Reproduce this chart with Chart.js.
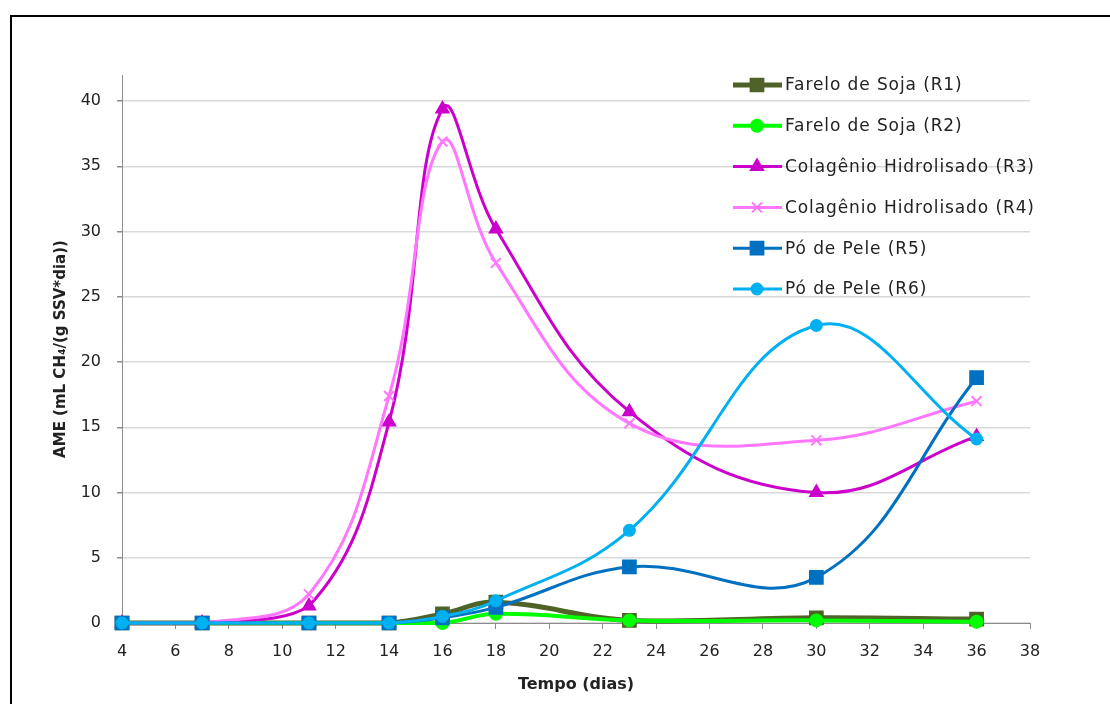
<!DOCTYPE html>
<html>
<head>
<meta charset="utf-8">
<script src="https://cdn.jsdelivr.net/npm/chart.js@4.4.1/dist/chart.umd.min.js"></script>
<style>
  html, body { margin: 0; padding: 0; background: #fff; }
  #wrap { position: relative; width: 1110px; height: 704px; overflow: hidden; }
</style>
</head>
<body>
<div id="wrap"><canvas id="ameChart" width="1110" height="704"></canvas></div>
<script>
// tempo (dias)
const days = [4, 7, 11, 14, 16, 18, 23, 30, 36];

const labelsR = [
    'Farelo de Soja (R1)',
    'Farelo de Soja (R2)',
    'Colagênio Hidrolisado (R3)',
    'Colagênio Hidrolisado (R4)',
    'Pó de Pele (R5)',
    'Pó de Pele (R6)'
];

const r1 = [0, 0, 0, 0, 0.7, 1.6, 0.2, 0.4, 0.3];
const r2 = [0, 0, 0, 0, 0, 0.7, 0.2, 0.2, 0.1];
const r3 = [0, 0, 1.3, 15.4, 39.4, 30.2, 16.2, 10.0, 14.3];
const r4 = [0, 0, 2.2, 17.4, 36.9, 27.6, 15.3, 14.0, 17.0];
const r5 = [0, 0, 0, 0, 0.4, 1.2, 4.3, 3.5, 18.8];
const r6 = [0, 0, 0, 0, 0.5, 1.7, 7.1, 22.8, 14.1];

const yTicks = [0, 5, 10, 15, 20, 25, 30, 35, 40];

const FONT = 'DejaVu Sans';

function pts(vals) {
    return days.map((d, i) => ({ x: d, y: vals[i] }));
}

const ctx = document.getElementById('ameChart').getContext('2d');

const series = [
    { label: labelsR[0], data: pts(r1), color: '#4f6228', style: 'rect', radius: 9, width: 5 },
    { label: labelsR[1], data: pts(r2), color: '#00ff00', style: 'circle', radius: 6, width: 4 },
    { label: labelsR[2], data: pts(r3), color: '#cc00cc', style: 'triangle', radius: 7, width: 3 },
    { label: labelsR[3], data: pts(r4), color: '#ff77ff', style: 'crossRot', radius: 7, width: 3 },
    { label: labelsR[4], data: pts(r5), color: '#0070c0', style: 'rect', radius: 9, width: 3 },
    { label: labelsR[5], data: pts(r6), color: '#00b0f0', style: 'circle', radius: 5.5, width: 3 }
];

// outer frame + legend drawn inside the plot area
const framePlugin = {
    id: 'frame',
    beforeDraw(chart) {
        const c = chart.ctx;
        c.save();
        c.strokeStyle = '#000';
        c.lineWidth = 2;
        c.strokeRect(11, 16, 1200, 800);
        c.restore();
    },
    afterDraw(chart) {
        const c = chart.ctx;
        c.save();
        c.font = '17px "' + FONT + '"';
        c.letterSpacing = '0.9px';
        c.textBaseline = 'middle';
        c.textAlign = 'left';
        chart.data.datasets.forEach((ds, i) => {
            const y = 85 + i * 40.8;
            c.strokeStyle = ds.borderColor;
            c.lineWidth = ds.borderWidth;
            c.beginPath();
            c.moveTo(733, y);
            c.lineTo(782, y);
            c.stroke();
            c.fillStyle = ds.backgroundColor;
            c.lineWidth = 2;
            Chart.helpers.drawPoint(c, { pointStyle: ds.pointStyle, radius: ds.pointRadius, borderWidth: 2, rotation: 0 }, 757, y);
            c.fillStyle = '#222';
            c.fillText(ds.label, 785, y + 1);
        });
        c.restore();
    }
};

new Chart(ctx, {
    type: 'line',
    data: {
        datasets: series.map((s, i) => ({
            label: s.label,
            data: s.data,
            borderColor: s.color,
            backgroundColor: s.color,
            pointBackgroundColor: s.color,
            pointBorderColor: s.color,
            pointStyle: s.style,
            pointRadius: s.radius,
            pointBorderWidth: 2,
            borderWidth: s.width,
            tension: 0.4,
            fill: false,
            clip: false,
            order: series.length - i
        }))
    },
    options: {
        responsive: false,
        animation: false,
        layout: { padding: { left: 0, top: 75, right: 80, bottom: 0 } },
        plugins: {
            legend: { display: false },
            tooltip: { enabled: false }
        },
        scales: {
            x: {
                type: 'linear',
                min: 4,
                max: 38,
                ticks: { stepSize: 2, color: '#222', font: { family: FONT, size: 16 }, padding: 13 },
                grid: { drawOnChartArea: false, drawTicks: true, tickLength: 6, color: '#8c8c8c' },
                border: { display: true, color: '#8c8c8c', width: 1 },
                title: {
                    display: true,
                    text: 'Tempo (dias)',
                    color: '#222',
                    font: { family: FONT, size: 16, weight: 'bold' },
                    padding: { top: 4, bottom: 10 }
                },
                afterFit(scale) { scale.height = 81; }
            },
            y: {
                min: 0,
                max: 42,
                afterBuildTicks(scale) {
                    scale.ticks = yTicks.map(v => ({ value: v }));
                },
                ticks: { color: '#222', font: { family: FONT, size: 16 }, padding: 16 },
                grid: { color: '#d9d9d9', tickColor: '#8c8c8c', drawTicks: true, tickLength: 5, lineWidth: 1.5 },
                border: { display: true, color: '#8c8c8c', width: 1 },
                title: {
                    display: true,
                    text: 'AME (mL CH₄/(g SSV*dia))',
                    color: '#222',
                    font: { family: FONT, size: 15, weight: 'bold' },
                    padding: { top: 52, bottom: 0 }
                },
                afterFit(scale) { scale.width = 122; }
            }
        }
    },
    plugins: [framePlugin]
});
</script>
</body>
</html>
